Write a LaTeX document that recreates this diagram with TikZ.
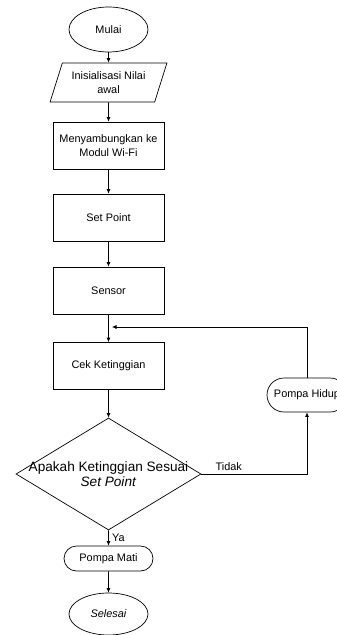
\documentclass[tikz,border=0pt]{standalone}
\usepackage{fontspec}
\setmainfont{Liberation Sans}
\usetikzlibrary{shapes.geometric,shapes.misc,arrows.meta}

\begin{document}
\begin{tikzpicture}[x=1pt,y=-1pt,line width=0.7pt,>={Latex[length=4.5pt,width=4pt]},
        font=\fontsize{10.9}{14}\selectfont]
        \useasboundingbox (0,0) rectangle (337,635);
        \begin{scope}[every node/.style={draw,align=center,inner sep=0pt,minimum width=111pt,minimum height=47pt}]
            \node [ellipse,minimum width=79pt,minimum height=45pt](A) at (108.5,29.5) {Mulai};
            \node [trapezium,trapezium left angle=66,trapezium right angle=114,trapezium stretches=true,minimum width=118pt,minimum height=39pt](B) at (108.5,82.5) {Inisialisasi Nilai\\awal};
            \node (C) at (108.5,145.5) {Menyambungkan ke\\Modul Wi-Fi};
            \node (D) at (108.5,217.5) {Set Point};
            \node (E) at (108.5,290.5) {Sensor};
            \node (F) at (108.5,366) {Cek Ketinggian};
            \node [diamond,minimum width=185pt,minimum height=112pt](G) at (108.5,474) {};
            \node [rounded rectangle,minimum width=80pt,minimum height=34pt](H) at (307,395) {Pompa Hidup};
            \node [rounded rectangle,minimum width=89pt,minimum height=25pt](I) at (108.5,558.5) {Pompa Mati};
            \node [ellipse,minimum width=79pt,minimum height=42pt](J) at (108.5,614) {\textit{Selesai}};
        \end{scope}
        \node [font=\fontsize{13.6}{15}\selectfont,align=center](Q) at (G) {Apakah Ketinggian Sesuai\\\textit{Set Point}};
        \coordinate (K) at (112,327);
        %\draw [dotted] (F) -- (H);
        \draw [->](A) -- (B);\draw [->](B) -- (C);\draw [->](C) -- (D);
        \draw [->](D) -- (E);\draw [->](E) -- (F);\draw [->](F) -- (G.north);
        \draw [->](H) |- (K);
        \draw [->](G.east) -| node[pos=0.13,above]{Tidak}(H);
        \draw [->](G.south) -- node[right]{Ya}(I);\draw [->](I) -- (J);
\end{tikzpicture}
\end{document}
